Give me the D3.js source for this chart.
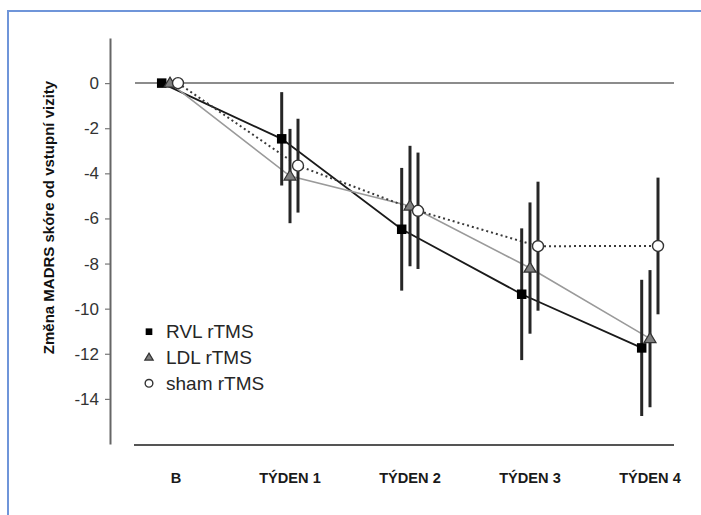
<!DOCTYPE html>
<html>
<head>
<meta charset="utf-8">
<script src="https://cdn.jsdelivr.net/npm/d3@7"></script>
<style>
  html, body { margin: 0; padding: 0; background: #fff; }
  svg { display: block; }
</style>
</head>
<body>
<svg id="chart" width="701" height="515"></svg>
<script>
const categories = ["B", "TÝDEN 1", "TÝDEN 2", "TÝDEN 3", "TÝDEN 4"];
const rvlValues  = [0, -2.47, -6.48, -9.36, -11.74];
const rvlErrors  = [0, 2.07, 2.72, 2.92, 3.02];
const ldlValues  = [0, -4.12, -5.45, -8.20, -11.33];
const ldlErrors  = [0, 2.09, 2.67, 2.91, 3.04];
const shamValues = [0, -3.66, -5.66, -7.23, -7.22];
const shamErrors = [0, 2.08, 2.58, 2.86, 3.03];
const yTicks = [0, -2, -4, -6, -8, -10, -12, -14];
const seriesNames = ["RVL rTMS", "LDL rTMS", "sham rTMS"];
const yTitle = "Změna MADRS skóre od vstupní vizity";

const series = [
  { name: seriesNames[0], values: rvlValues, errors: rvlErrors, kind: "square", dx: -8.3,
    line: { stroke: "#1a1a1a", width: 1.8, dash: null } },
  { name: seriesNames[1], values: ldlValues, errors: ldlErrors, kind: "triangle", dx: 0,
    line: { stroke: "#9a9a9a", width: 1.6, dash: null } },
  { name: seriesNames[2], values: shamValues, errors: shamErrors, kind: "circle", dx: 8,
    line: { stroke: "#3a3a3a", width: 2, dash: "2,3" } }
];

const svg = d3.select("#chart");

// page frame (blue border top & left)
svg.append("line").attr("x1", 7.5).attr("x2", 701).attr("y1", 11).attr("y2", 11)
  .attr("stroke", "#6f95d9").attr("stroke-width", 2);
svg.append("line").attr("x1", 8).attr("x2", 8).attr("y1", 10).attr("y2", 515)
  .attr("stroke", "#6f95d9").attr("stroke-width", 2);

const x = d3.scalePoint().domain(categories).range([170, 650]);
const y = d3.scaleLinear().domain([-16, 2]).range([444, 38]);

// y axis
const yAxis = d3.axisLeft(y).tickValues(yTicks).tickSize(5).tickSizeOuter(0).tickPadding(6)
  .tickFormat(d => d === 0 ? "0" : "-" + Math.abs(d));
const ya = svg.append("g").attr("transform", "translate(110,0)").call(yAxis);
ya.select(".domain").attr("stroke", "#666").attr("stroke-width", 2);
ya.selectAll(".tick line").attr("stroke", "#777").attr("stroke-width", 1.2);
ya.selectAll(".tick text").attr("fill", "#333")
  .style("font-family", "Liberation Sans, Arial, sans-serif").style("font-size", "17px");

// zero line and bottom baseline
svg.append("line").attr("x1", 135).attr("x2", 674).attr("y1", y(0)).attr("y2", y(0))
  .attr("stroke", "#666").attr("stroke-width", 1.5);
svg.append("line").attr("x1", 134).attr("x2", 674).attr("y1", 445).attr("y2", 445)
  .attr("stroke", "#555").attr("stroke-width", 2.2);

// category labels
svg.append("g").selectAll("text").data(categories).join("text")
  .attr("x", d => x(d) + (d === "B" ? 6 : 0))
  .attr("y", 482.5)
  .attr("text-anchor", "middle")
  .attr("fill", "#1a1a1a")
  .style("font-family", "Liberation Sans, Arial, sans-serif")
  .style("font-weight", "bold")
  .style("font-size", "14.6px")
  .text(d => d);

// y title
svg.append("text")
  .attr("transform", "translate(48,217.5) rotate(-90)")
  .attr("text-anchor", "middle")
  .attr("dominant-baseline", "central")
  .attr("fill", "#111")
  .style("font-family", "Liberation Sans, Arial, sans-serif")
  .style("font-weight", "bold")
  .style("font-size", "15px")
  .text(yTitle);

// lines
series.forEach(s => {
  const pts = categories.map((c, i) => [x(c) + s.dx, y(s.values[i])]);
  svg.append("path").attr("d", d3.line()(pts))
    .attr("fill", "none").attr("stroke", s.line.stroke).attr("stroke-width", s.line.width)
    .attr("stroke-dasharray", s.line.dash);
});

// error bars
series.forEach(s => {
  svg.append("g").selectAll("line").data(categories.map((c, i) => ({ c, v: s.values[i], e: s.errors[i] })).filter(d => d.e > 0))
    .join("line")
    .attr("x1", d => x(d.c) + s.dx).attr("x2", d => x(d.c) + s.dx)
    .attr("y1", d => y(d.v + d.e)).attr("y2", d => y(d.v - d.e))
    .attr("stroke", "#262626").attr("stroke-width", 3);
});

function drawMarker(g, kind, cx, cy, scale) {
  if (kind === "square") {
    const s = 9.5 * scale;
    g.append("rect").attr("x", cx - s / 2).attr("y", cy - s / 2).attr("width", s).attr("height", s)
      .attr("fill", "#000");
  } else if (kind === "triangle") {
    const w = 12 * scale, h = 10 * scale;
    g.append("path")
      .attr("d", `M${cx},${cy - h * 0.6}L${cx + w / 2},${cy + h * 0.4}L${cx - w / 2},${cy + h * 0.4}Z`)
      .attr("fill", "#7f7f7f").attr("stroke", "#333").attr("stroke-width", 1.2);
  } else {
    g.append("circle").attr("cx", cx).attr("cy", cy).attr("r", 5.5 * scale)
      .attr("fill", "#fff").attr("stroke", "#333").attr("stroke-width", 1.4);
  }
}

// markers
series.forEach(s => {
  const g = svg.append("g");
  categories.forEach((c, i) => drawMarker(g, s.kind, x(c) + s.dx, y(s.values[i]), 1));
});

// legend
const legendY = [331.7, 357.3, 383.3];
series.forEach((s, i) => {
  const g = svg.append("g");
  drawMarker(g, s.kind, 149, legendY[i], 0.7);
  g.append("text").attr("x", 166).attr("y", legendY[i]).attr("dominant-baseline", "central")
    .attr("fill", "#262626")
    .style("font-family", "Liberation Sans, Arial, sans-serif").style("font-size", "19px")
    .text(s.name);
});
</script>
</body>
</html>
